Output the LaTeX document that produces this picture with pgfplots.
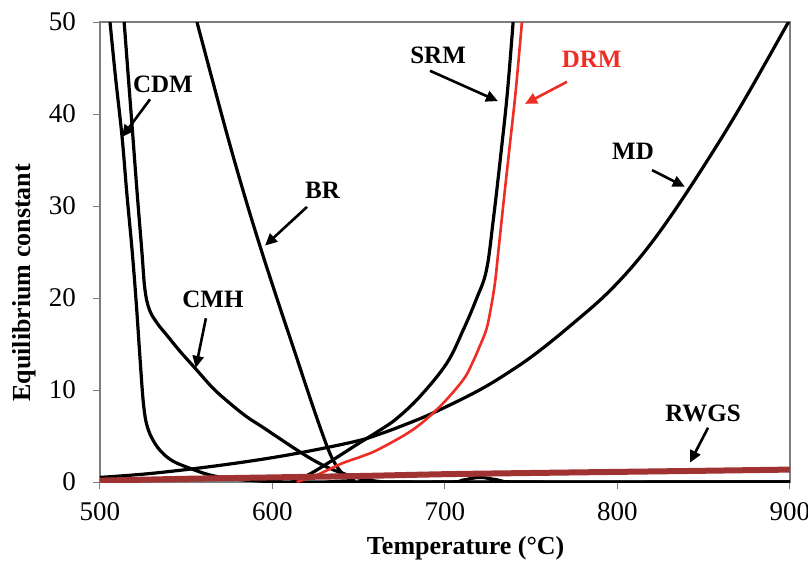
\documentclass[border=0pt]{standalone}
\usepackage{pgfplots}
\pgfplotsset{compat=1.18}
\usepackage{fontspec}
\setmainfont{Liberation Serif}
\usetikzlibrary{arrows.meta}
\definecolor{drmred}{RGB}{238,45,36}
\definecolor{rwgs}{RGB}{160,50,50}
\definecolor{axgray}{RGB}{125,125,125}
\begin{document}
\begin{tikzpicture}
\useasboundingbox (-50pt,-40pt) rectangle (354pt,241pt);
\begin{axis}[
  at={(0pt,0pt)}, anchor=south west,
  width=345pt, height=230pt, scale only axis,
  xmin=500, xmax=900, ymin=0, ymax=50,
  xtick={500,600,700,800,900}, ytick={0,10,20,30,40,50},
  xtick pos=bottom, ytick pos=left,
  tick align=outside, major tick length=3.5pt,
  tick style={axgray, line width=0.5pt},
  axis line style={axgray, line width=0.7pt},
  /pgf/number format/assume math mode=true,
  tick label style={font=\fontsize{13.5}{15}\selectfont},
  xticklabel style={yshift=-3pt},
  yticklabel style={xshift=-5pt},
  xlabel={Temperature (°C)},
  ylabel={Equilibrium constant},
  every axis x label/.style={at={(axis description cs:0.53,-0.143)}, anchor=center, font=\fontsize{13}{15}\selectfont\bfseries},
  every axis y label/.style={at={(axis description cs:-0.11,0.433)}, rotate=90, anchor=center, font=\fontsize{13}{15}\selectfont\bfseries},
  clip=true,
]
% CDM
\addplot[black, line width=1.6pt, smooth, tension=0.6] table {
505.8 50
509 44
512.8 37.5
515.5 31.5
518.6 25.2
521 19.5
523 14
524.5 10
525.5 8
527 6.3
530 4.8
535 3.4
542 2.3
552 1.5
562 0.85
571 0.5
585 0.2
600 0.05
620 0
700 0
710 0.2
720 0.5
730 0.25
745 0
900 0
};
% CMH
\addplot[black, line width=1.6pt, smooth, tension=0.6] table {
514 50
516.5 43.8
519 37.7
521.5 31.5
524.3 25
526 21
528.5 18.8
533 17.3
539 15.9
546.4 14.2
555 12.4
565.5 10.2
575 8.6
585 7.1
594 6.0
604.3 4.7
614 3.5
623.5 2.4
633 1.5
643 0.8
652 0.35
660 0.1
670 0
900 0
};
% BR
\addplot[black, line width=1.6pt, smooth, tension=0.6] table {
556.2 50
565 43.8
574.5 37.2
584 31.0
593.5 25.2
603.2 19.6
612.8 14.2
622 9.0
629.4 5.0
634 2.8
638 1.5
642 0.7
647 0.2
655 0
900 0
};
% MD
\addplot[black, line width=1.6pt, smooth, tension=0.6] table {
500 0.5
525 0.85
550 1.35
575 1.95
600 2.65
625 3.5
650 4.5
662 5.2
675 6.1
693 7.5
720 10
740 12.3
755 14.3
774 17.2
794 20.5
813 24.4
832 29.2
856 36.1
875 42.0
900 50.3
};
% SRM
\addplot[black, line width=1.6pt, smooth, tension=0.6] table {
611 0
620 0.7
630 1.8
640 3.0
650 4.2
662 5.6
672 6.9
685.5 9.3
701 12.9
710.5 16.5
718 19.8
724 23
728 28.5
732 35
736 42
739.5 50
};
% DRM
\addplot[drmred, line width=1.3pt, smooth, tension=0.6] table {
614 0
625 0.7
640 2.0
652 2.8
662 3.6
681.5 5.7
697 8.2
710.5 11.1
716 13
720 14.7
724 16.6
726.5 18.8
729 21.7
731 25.2
734 30.5
737.5 36.5
741 42.5
744.6 50
};
% RWGS
\addplot[rwgs, line width=3pt, smooth] table {
500 0.15
550 0.35
600 0.5
650 0.65
700 0.85
750 0.98
800 1.1
850 1.22
900 1.35
};
% annotations
\tikzset{lab/.style={font=\fontsize{12.5}{14}\selectfont\bfseries},
         arr/.style={-{Triangle[length=6pt,width=5.5pt]}, line width=1.3pt}}
\node[lab] at (axis cs:536.5,43.2) {CDM};
\draw[arr] (axis cs:529,41.6) -- (axis cs:512.8,37.5);
\node[lab] at (axis cs:629,31.7) {BR};
\draw[arr] (axis cs:620,29.9) -- (axis cs:595.7,25.7);
\node[lab] at (axis cs:565.5,19.8) {CMH};
\draw[arr] (axis cs:561.4,17.8) -- (axis cs:555.5,12.4);
\node[lab] at (axis cs:696,46.4) {SRM};
\draw[arr] (axis cs:691.3,44.7) -- (axis cs:730.7,41.4);
\node[lab, text=drmred] at (axis cs:785,45.9) {DRM};
\draw[arr, drmred] (axis cs:770.7,43.5) -- (axis cs:746.4,41.1);
\node[lab] at (axis cs:809,35.9) {MD};
\draw[arr] (axis cs:820,33.9) -- (axis cs:839,32.1);
\node[lab] at (axis cs:849.6,7.5) {RWGS};
\draw[arr] (axis cs:852.5,5.9) -- (axis cs:842,2.1);
\end{axis}
\end{tikzpicture}
\end{document}
